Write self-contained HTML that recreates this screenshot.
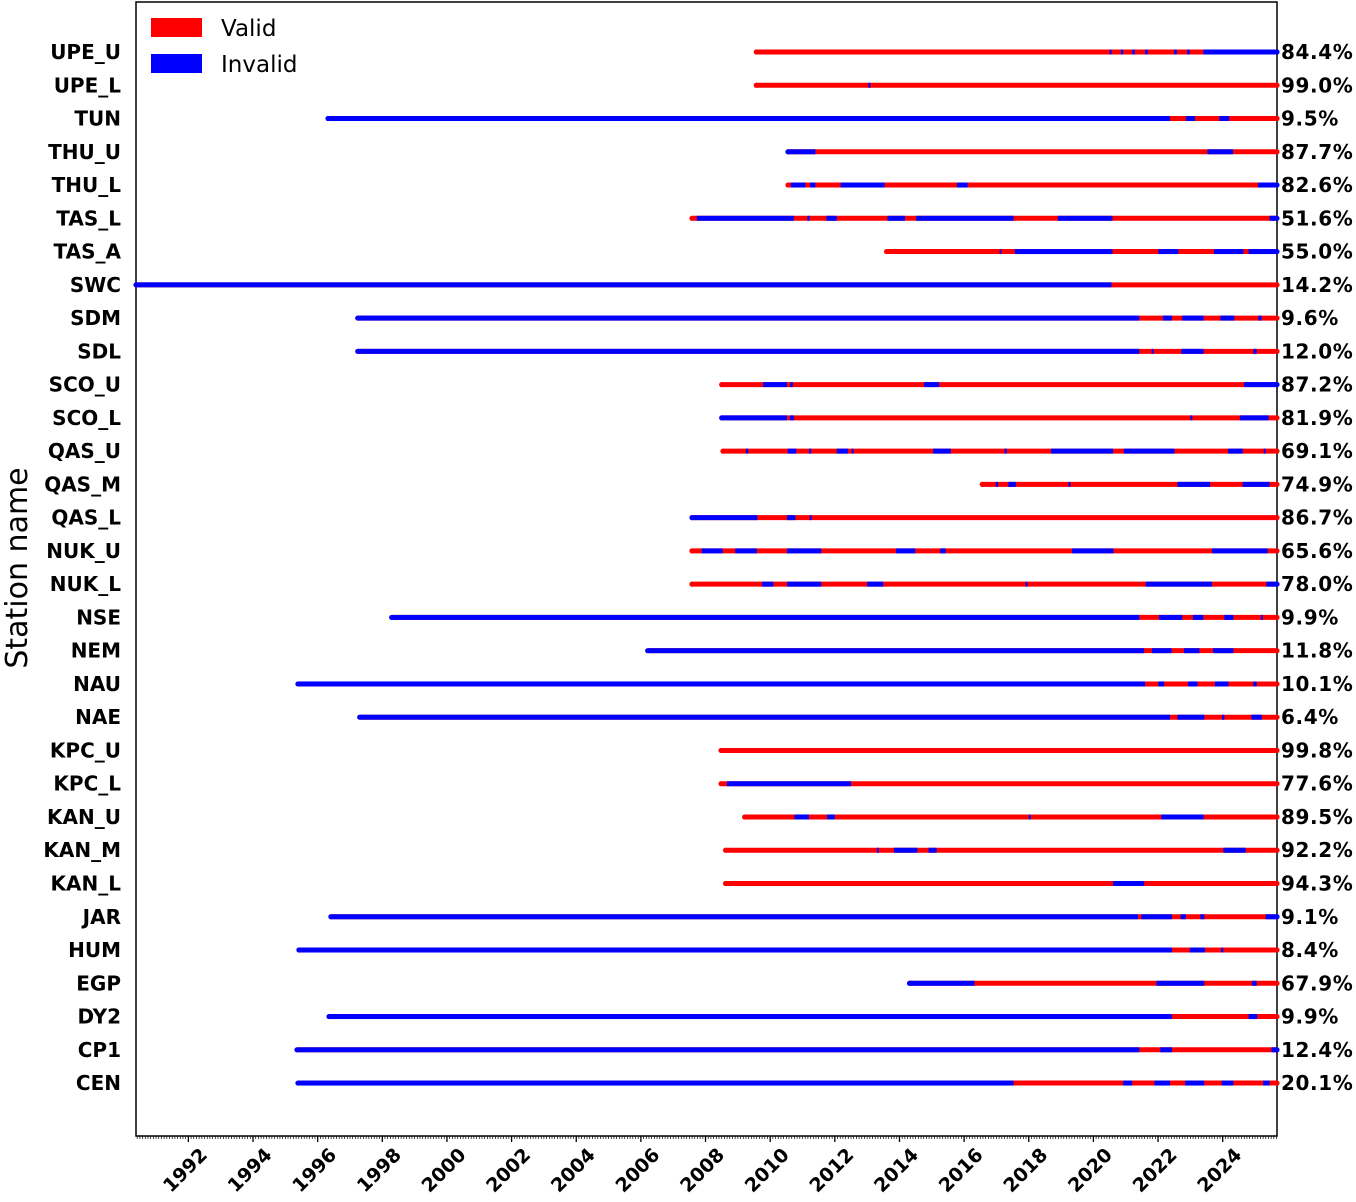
<!DOCTYPE html>
<html><head><meta charset="utf-8">
<style>
html,body{margin:0;padding:0;background:#fff;}
svg{display:block;font-family:"DejaVu Sans","Liberation Sans",sans-serif;}
</style></head>
<body>
<svg id="chart" width="1356" height="1202" viewBox="0 0 1356 1202">
<rect x="136" y="2" width="1141" height="1134" fill="#fff" stroke="#000" stroke-width="1.5"/>
<g id="marks"></g>
<g id="ylabels"></g>
<g id="pcts"></g>
<g id="xaxis"></g>
<text x="27" y="568" font-size="30" text-anchor="middle" transform="rotate(-90 27 568)">Station name</text>
<g>
  <rect x="151" y="18" width="51" height="19" fill="#ff0000"/>
  <text x="221" y="36" font-size="23">Valid</text>
  <rect x="151" y="54" width="51" height="19" fill="#0000ff"/>
  <text x="221" y="72" font-size="23">Invalid</text>
</g>
</svg>
<script>
const stations = ["UPE_U","UPE_L","TUN","THU_U","THU_L","TAS_L","TAS_A","SWC","SDM","SDL","SCO_U","SCO_L","QAS_U","QAS_M","QAS_L","NUK_U","NUK_L","NSE","NEM","NAU","NAE","KPC_U","KPC_L","KAN_U","KAN_M","KAN_L","JAR","HUM","EGP","DY2","CP1","CEN"];
const percentValid = ["84.4","99.0","9.5","87.7","82.6","51.6","55.0","14.2","9.6","12.0","87.2","81.9","69.1","74.9","86.7","65.6","78.0","9.9","11.8","10.1","6.4","99.8","77.6","89.5","92.2","94.3","9.1","8.4","67.9","9.9","12.4","20.1"];
const startYears = [2009.57,2009.57,1996.32,2010.55,2010.55,2007.58,2013.6,1990.38,1997.24,1997.24,2008.5,2008.5,2008.54,2016.56,2007.58,2007.58,2007.58,1998.29,2006.21,1995.39,1997.3,2008.48,2008.48,2009.21,2008.62,2008.62,1996.41,1995.42,2014.31,1996.35,1995.36,1995.39];
const endYear = 2025.68;
const invalidPeriods = [
 [[2020.5,2020.56],[2020.85,2020.92],[2021.2,2021.28],[2021.6,2021.68],[2022.5,2022.58],[2022.9,2022.98],[2023.4,2025.68]],
 [[2013.04,2013.1]],
 [[1996.32,2022.37],[2022.86,2023.14],[2023.9,2024.2]],
 [[2010.55,2011.4],[2023.53,2024.32]],
 [[2010.64,2011.09],[2011.23,2011.4],[2012.18,2013.54],[2015.78,2016.11],[2025.09,2025.68]],
 [[2007.73,2010.73],[2011.15,2011.22],[2011.74,2012.06],[2013.63,2014.17],[2014.52,2017.53],[2018.9,2020.59],[2025.45,2025.68]],
 [[2017.1,2017.15],[2017.57,2020.59],[2022.01,2022.63],[2023.73,2024.64],[2024.8,2025.68]],
 [[1990.38,2020.56]],
 [[1997.24,2021.42],[2022.15,2022.43],[2022.75,2023.41],[2023.93,2024.36],[2025.1,2025.2]],
 [[1997.24,2021.42],[2021.8,2021.86],[2022.72,2023.41],[2024.95,2025.05]],
 [[2009.78,2010.52],[2010.62,2010.7],[2014.76,2015.23],[2024.66,2025.68]],
 [[2008.5,2010.52],[2010.61,2010.73],[2023.0,2023.06],[2024.53,2025.42]],
 [[2009.25,2009.32],[2010.54,2010.81],[2011.2,2011.27],[2012.06,2012.41],[2012.52,2012.58],[2015.04,2015.59],[2017.25,2017.32],[2018.69,2020.61],[2020.94,2022.51],[2024.17,2024.62],[2025.27,2025.33]],
 [[2016.98,2017.05],[2017.37,2017.6],[2019.23,2019.29],[2022.6,2023.61],[2024.62,2025.45]],
 [[2007.58,2009.6],[2010.52,2010.78],[2011.22,2011.28]],
 [[2007.88,2008.53],[2008.92,2009.59],[2010.52,2011.58],[2013.89,2014.49],[2015.26,2015.43],[2019.34,2020.62],[2023.67,2025.39]],
 [[2009.75,2010.1],[2010.52,2011.58],[2013.0,2013.5],[2017.9,2017.96],[2021.62,2023.67],[2025.35,2025.68]],
 [[1998.29,2021.42],[2022.03,2022.75],[2023.08,2023.4],[2024.05,2024.33],[2025.18,2025.24]],
 [[2006.21,2021.57],[2021.81,2022.42],[2022.8,2023.28],[2023.7,2024.33]],
 [[1995.39,2021.6],[2022.01,2022.19],[2022.93,2023.22],[2023.76,2024.18],[2024.95,2025.05]],
 [[1997.3,2022.37],[2022.6,2023.43],[2023.98,2024.05],[2024.89,2025.21]],
 [],
 [[2008.66,2012.5]],
 [[2010.75,2011.2],[2011.76,2012.0],[2018.0,2018.06],[2022.1,2023.41]],
 [[2013.3,2013.36],[2013.83,2014.55],[2014.9,2015.15],[2024.02,2024.71]],
 [[2020.61,2021.57]],
 [[1996.41,2021.38],[2021.48,2022.43],[2022.7,2022.86],[2023.31,2023.43],[2025.33,2025.68]],
 [[1995.42,2022.43],[2022.98,2023.45],[2023.95,2024.02]],
 [[2014.31,2016.32],[2021.95,2023.43],[2024.91,2025.05]],
 [[1996.35,2022.43],[2024.8,2025.07]],
 [[1995.36,2021.42],[2022.07,2022.43],[2025.51,2025.68]],
 [[1995.39,2017.53],[2020.92,2021.2],[2021.89,2022.37],[2022.84,2023.43],[2023.97,2024.33],[2025.25,2025.45]]
];
const tickYears = [1992,1994,1996,1998,2000,2002,2004,2006,2008,2010,2012,2014,2016,2018,2020,2022,2024];
const xMin = 1990.38, xMax = 2025.68;

const NS = "http://www.w3.org/2000/svg";
function xs(y){ return 136 + (y - xMin) / (xMax - xMin) * 1141; }
function ys(i){ return 52 + i * 33.26; }
function mk(tag, attrs, parent){ const e = document.createElementNS(NS, tag); for (const k in attrs) e.setAttribute(k, attrs[k]); parent.appendChild(e); return e; }

const marks = document.getElementById("marks");
const ylab = document.getElementById("ylabels");
const pcts = document.getElementById("pcts");
stations.forEach((s, i) => {
  const y = ys(i);
  const per = invalidPeriods[i];
  const startBlue = per.length && per[0][0] <= startYears[i] + 0.05;
  const endBlue = per.length && per[per.length - 1][1] >= endYear - 0.05;
  const c1 = mk("circle", {cx: xs(startYears[i]), cy: y, r: 2.6, fill: startBlue ? "#0000ff" : "#ff0000"}, marks);
  
  
  const c2 = mk("circle", {cx: xs(endYear), cy: y, r: 2.6, fill: endBlue ? "#0000ff" : "#ff0000"}, marks);
  
  
  const base = mk("line", {x1: xs(startYears[i]), x2: xs(endYear), y1: y, y2: y, stroke: "#ff0000", "stroke-width": 5}, marks);
  
  
  per.forEach(p => {
    const seg = mk("rect", {x: xs(p[0]), y: y - 2.5, width: Math.max(1.5, xs(p[1]) - xs(p[0])), height: 5, fill: "#0000ff"}, marks);
    
    
  });
  const t = mk("text", {x: 121, y: y + 7, "text-anchor": "end", "font-size": 20, "font-weight": "bold"}, ylab);
  t.textContent = s;
  
  
  const p = mk("text", {x: 1281, y: y + 7, "font-size": 20, "font-weight": "bold", "letter-spacing": "0.6"}, pcts);
  p.textContent = percentValid[i] + "%";
  
  
});

const xa = document.getElementById("xaxis");
for (let m = Math.ceil(xMin * 12); m <= Math.floor(xMax * 12); m++) {
  const x = xs(m / 12);
  const mt = mk("line", {x1: x, x2: x, y1: 1136, y2: 1139, stroke: "#000", "stroke-width": 0.7}, xa);
  
  
}
tickYears.forEach(yr => {
  const x = xs(yr);
  const tk = mk("line", {x1: x, x2: x, y1: 1136, y2: 1142, stroke: "#000", "stroke-width": 1.3}, xa);
  
  
  const lx = x + 20, ly = 1156;
  const t = mk("text", {x: lx, y: ly, "text-anchor": "end", "font-size": 19, "font-weight": "bold", transform: "rotate(-45 " + lx + " " + ly + ")"}, xa);
  t.textContent = yr;
  
  
});
</script>
</body></html>
